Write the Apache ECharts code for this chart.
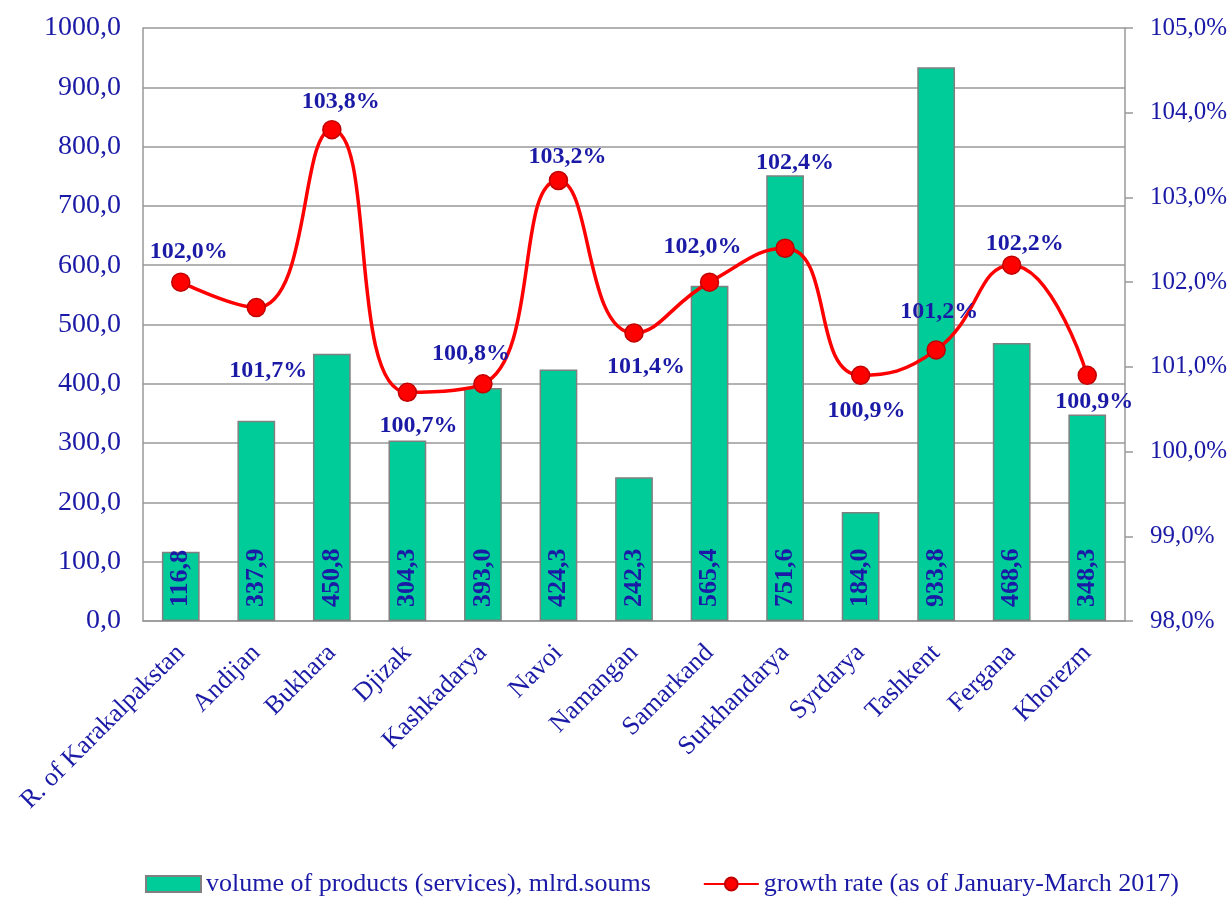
<!DOCTYPE html>
<html>
<head>
<meta charset="utf-8">
<script src="https://cdn.jsdelivr.net/npm/echarts@6/dist/echarts.min.js"></script>
<style>
html, body { margin: 0; padding: 0; background: #fff; }
#chart { width: 1231px; height: 899px; }
</style>
</head>
<body>
<div id="chart"></div>
<script>
var regions = ['R. of Karakalpakstan', 'Andijan', 'Bukhara', 'Djizak', 'Kashkadarya', 'Navoi',
    'Namangan', 'Samarkand', 'Surkhandarya', 'Syrdarya', 'Tashkent', 'Fergana', 'Khorezm'];
var volume = [116.8, 337.9, 450.8, 304.3, 393.0, 424.3, 242.3, 565.4, 751.6, 184.0, 933.8, 468.6, 348.3];
var growth = [102.0, 101.7, 103.8, 100.7, 100.8, 103.2, 101.4, 102.0, 102.4, 100.9, 101.2, 102.2, 100.9];

// where each growth label sits relative to its point
var labelPos = ['top', 'bottom', 'top', 'bottom', 'top', 'top', 'bottom', 'top', 'top', 'bottom', 'top', 'top', 'bottom'];
var labelOff = [[8, -4], [12, 36], [9, -1], [11, 7], [-12, -3], [9, 3], [12, 7], [-7, -9], [10, -59], [6, 9], [3, -11], [13, 5], [7, 0]];

var font = 'Liberation Serif, Times New Roman, serif';
var navy = '#1a1aa6';
var comma = function (v, d) { return v.toFixed(d).replace('.', ','); };

var chart = echarts.init(document.getElementById('chart'));
chart.setOption({
    animation: false,
    grid: { left: 143, right: 106, top: 28, bottom: 278, outerBoundsMode: 'none' },
    legend: {
        top: 866,
        left: 140,
        itemGap: 52,
        itemWidth: 55,
        itemHeight: 16,
        textStyle: { fontFamily: font, fontSize: 26, color: navy },
        data: [
            { name: 'volume of products (services), mlrd.soums', icon: 'rect' },
            { name: 'growth rate (as of January-March 2017)' }
        ]
    },
    xAxis: {
        type: 'category',
        data: regions,
        axisLine: { lineStyle: { color: '#999', width: 1.5 } },
        axisTick: { show: false },
        axisLabel: {
            interval: 0, rotate: 45, margin: 28,
            fontFamily: font, fontSize: 26, color: navy
        }
    },
    yAxis: [
        {
            type: 'value', min: 0, max: 1000, interval: 100,
            axisLine: { show: true, lineStyle: { color: '#999', width: 1.5 } },
            axisTick: { show: false },
            splitLine: { lineStyle: { color: '#999', width: 1.5 } },
            axisLabel: {
                margin: 22, fontFamily: font, fontSize: 28, color: navy,
                formatter: function (v) { return comma(v, 1); }
            }
        },
        {
            type: 'value', min: 98, max: 105, interval: 1,
            axisLine: { show: true, lineStyle: { color: '#999', width: 1.5 } },
            axisTick: { show: true, length: 8, lineStyle: { color: '#999', width: 1.5 } },
            splitLine: { show: false },
            axisLabel: {
                margin: 25, fontFamily: font, fontSize: 25, color: navy,
                formatter: function (v) { return comma(v, 1) + '%'; }
            }
        }
    ],
    series: [
        {
            name: 'volume of products (services), mlrd.soums',
            type: 'bar',
            barWidth: '50%',
            data: volume,
            itemStyle: { color: '#00cc99', borderColor: '#808080', borderWidth: 1.5 },
            label: {
                show: true, position: 'insideBottom', rotate: 90,
                align: 'left', verticalAlign: 'middle', distance: 14,
                fontFamily: font, fontSize: 26, fontWeight: 'bold', color: navy,
                formatter: function (p) { return comma(p.value, 1); }
            }
        },
        {
            name: 'growth rate (as of January-March 2017)',
            type: 'line',
            yAxisIndex: 1,
            smooth: 0.5,
            symbol: 'circle',
            symbolSize: 18,
            lineStyle: { color: '#ff0000', width: 3.5 },
            itemStyle: { color: '#ff0000', borderColor: '#c00000', borderWidth: 1.5 },
            data: growth.map(function (g, i) {
                return {
                    value: g,
                    label: { position: labelPos[i], offset: labelOff[i] }
                };
            }),
            label: {
                show: true, distance: 5,
                fontFamily: font, fontSize: 24, fontWeight: 'bold', color: navy,
                formatter: function (p) { return comma(p.value, 1) + '%'; }
            },
            z: 5
        }
    ]
});
</script>
</body>
</html>
